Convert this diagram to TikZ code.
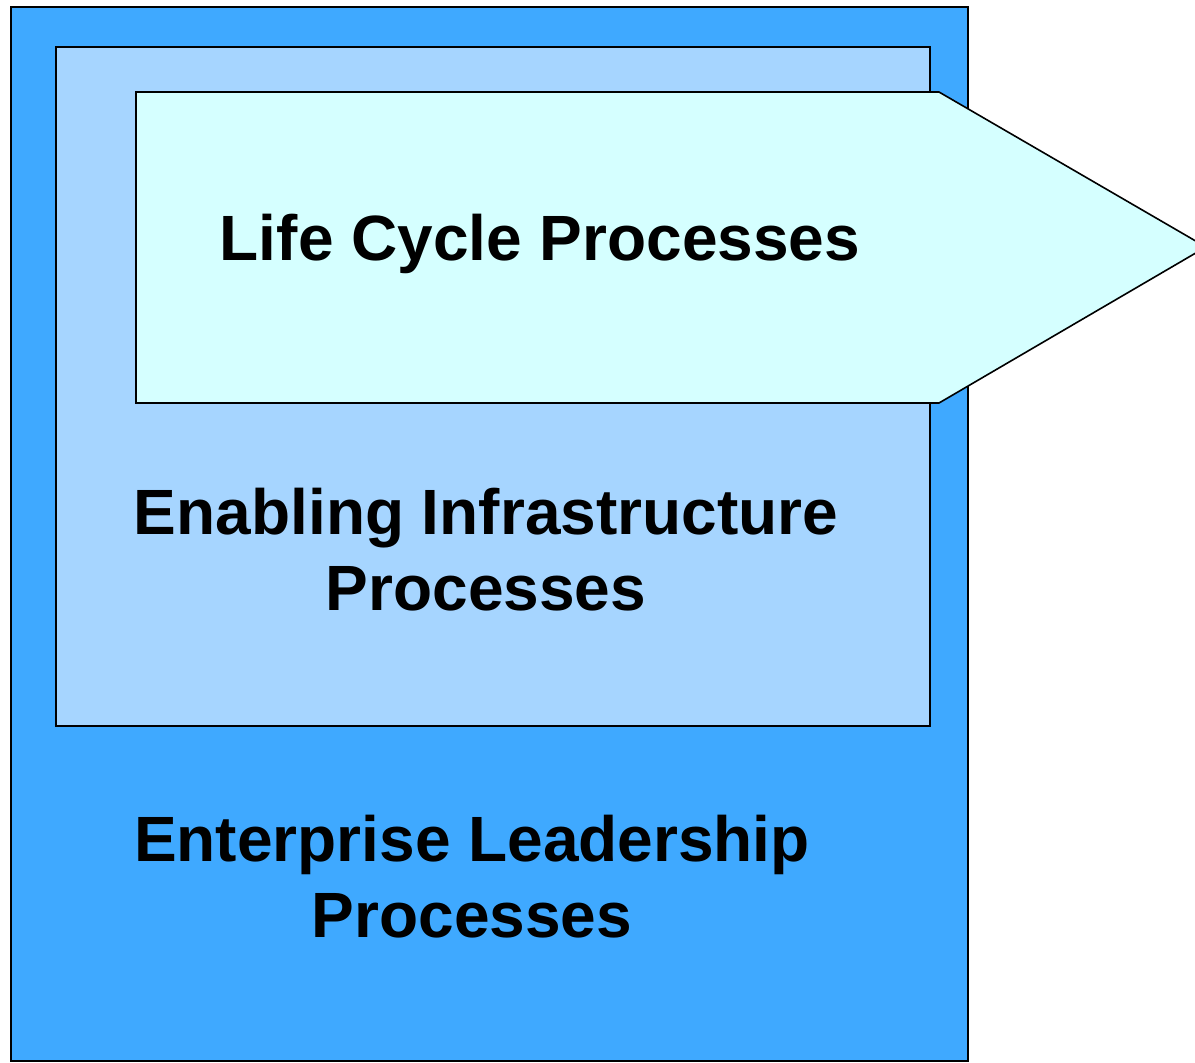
\documentclass[tikz,border=0pt]{standalone}
\usepackage{fontspec}
\setmainfont{Liberation Sans}
\definecolor{outerblue}{HTML}{3FA9FF}
\definecolor{innerblue}{HTML}{A6D5FF}
\definecolor{arrowcyan}{HTML}{D5FFFF}
\begin{document}
\begin{tikzpicture}[x=1pt,y=-1pt,
  box/.style={draw=black,line width=2pt,line join=miter},
  label/.style={font=\fontsize{64}{76}\selectfont\bfseries,anchor=base,inner sep=0pt}]
\useasboundingbox (0,0) rectangle (1195,1063);
\clip (0,0) rectangle (1195,1063);
\draw[box,fill=outerblue] (11,7) rectangle (968,1061);
\draw[box,fill=innerblue] (56,47) rectangle (930,726);
\draw[fill=arrowcyan,draw=black,line width=1.6pt,line join=miter]
  (136,92) -- (939,92) -- (1206,247) -- (939,403) -- (136,403) -- cycle;
\node[label] (lc) at (540,260) {Life Cycle Processes};
\node[label] (ei1) at (486,534) {Enabling Infrastructure};
\node[label] (ei2) at (486,610) {Processes};
\node[label] (el1) at (472,861) {Enterprise Leadership};
\node[label] (el2) at (472,937) {Processes};
\end{tikzpicture}
\end{document}
